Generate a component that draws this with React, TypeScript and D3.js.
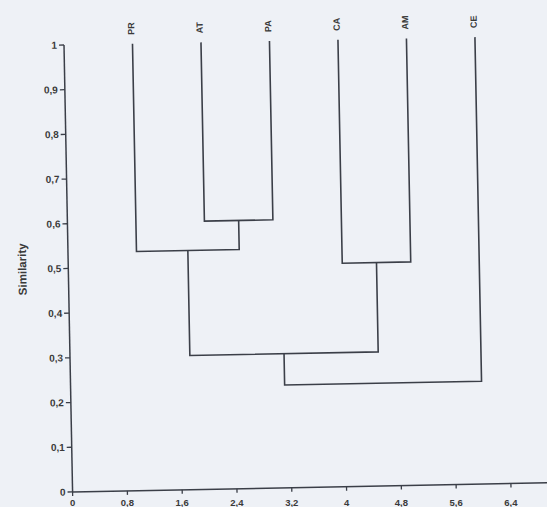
import React from "react";
import * as d3 from "d3";

// ---- data ----
const leafNames = ["PR", "AT", "PA", "CA", "AM", "CE"];
const leafPositions = [1, 2, 3, 4, 5, 6];
// merges: indices 0-5 are leaves, 6+ are merged clusters in order
const mergeA = [1, 0, 3, 7, 9];
const mergeB = [2, 6, 4, 8, 5];
const mergeSimilarity = [0.6, 0.535, 0.5, 0.3, 0.23];
const yTickValues = [0, 0.1, 0.2, 0.3, 0.4, 0.5, 0.6, 0.7, 0.8, 0.9, 1];
const yTickLabels = ["0", "0,1", "0,2", "0,3", "0,4", "0,5", "0,6", "0,7", "0,8", "0,9", "1"];
const xTickValues = [0, 0.8, 1.6, 2.4, 3.2, 4, 4.8, 5.6, 6.4];
const xTickLabels = ["0", "0,8", "1,6", "2,4", "3,2", "4", "4,8", "5,6", "6,4"];

const W = 547;
const H = 507;
const ox = 64;
const oyTop = 45;
const oyBot = 492;
const ANGLE = -1.1;

export default function App() {
  const x = d3.scaleLinear().domain([0, 1]).range([ox, ox + 68.5]);
  const y = d3.scaleLinear().domain([0, 1]).range([oyBot, oyTop]);

  const nodeX: number[] = leafPositions.slice();
  const nodeY: number[] = leafPositions.map(() => 1);
  mergeA.forEach((a, i) => {
    const b = mergeB[i];
    nodeX.push((nodeX[a] + nodeX[b]) / 2);
    nodeY.push(mergeSimilarity[i]);
  });

  const line = d3.line<[number, number]>();
  const links = mergeA.map((a, i) => {
    const b = mergeB[i];
    const s = mergeSimilarity[i];
    return line([
      [x(nodeX[a]), y(nodeY[a])],
      [x(nodeX[a]), y(s)],
      [x(nodeX[b]), y(s)],
      [x(nodeX[b]), y(nodeY[b])],
    ]) as string;
  });

  const rad = (ANGLE * Math.PI) / 180;
  const rotX = (px: number, py: number) =>
    ox + (px - ox) * Math.cos(rad) - (py - oyTop) * Math.sin(rad);

  const stroke = "#3b3f48";
  const font = "'Liberation Sans', Arial, sans-serif";
  const xMax = 7.3;

  return (
    <svg
      width={W}
      height={H}
      style={{ position: "absolute", left: 0, top: 0 }}
      fontFamily={font}
    >
      <rect width={W} height={H} fill="#eef1f6" />
      <g transform={`rotate(${ANGLE}, ${ox}, ${oyTop})`}>
        {/* y axis */}
        <line x1={ox} y1={y(1)} x2={ox} y2={y(0)} stroke={stroke} strokeWidth={1.5} />
        {yTickValues.map((v, i) => (
          <g key={"yt" + i}>
            <line x1={ox - 5} x2={ox} y1={y(v)} y2={y(v)} stroke={stroke} strokeWidth={1.3} />
            <text
              x={ox - 7}
              y={y(v)}
              textAnchor="end"
              dominantBaseline="central"
              fontSize={10}
              fontWeight="bold"
              fill="#3a3a3a"
            >
              {yTickLabels[i]}
            </text>
          </g>
        ))}
        {/* x axis */}
        <line x1={ox} y1={y(0)} x2={x(xMax)} y2={y(0)} stroke={stroke} strokeWidth={1.5} />
        {xTickValues.map((v, i) => (
          <line
            key={"xt" + i}
            x1={x(v)}
            x2={x(v)}
            y1={y(0)}
            y2={y(0) + 4}
            stroke={stroke}
            strokeWidth={1.3}
          />
        ))}
        {/* dendrogram links */}
        {links.map((d, i) => (
          <path key={"l" + i} d={d} fill="none" stroke={stroke} strokeWidth={1.6} />
        ))}
        {/* leaf labels */}
        {leafNames.map((n, i) => (
          <text
            key={"lf" + i}
            transform={`translate(${x(leafPositions[i]) - 1}, ${oyTop - 9}) rotate(-90)`}
            textAnchor="start"
            dominantBaseline="central"
            fontSize={9}
            fontWeight="bold"
            fill="#3a3a3a"
          >
            {n}
          </text>
        ))}
        {/* axis title */}
        <text
          transform={`translate(${ox - 46}, ${y(0.5)}) rotate(-90)`}
          textAnchor="middle"
          dominantBaseline="central"
          fontSize={11.5}
          fontWeight="bold"
          fill="#3a3a3a"
        >
          Similarity
        </text>
      </g>
      {/* x tick labels (kept level, as in the scan) */}
      {xTickValues.map((v, i) => (
        <text
          key={"xl" + i}
          x={rotX(x(v), y(0))}
          y={505.5}
          textAnchor="middle"
          fontSize={9.5}
          fontWeight="bold"
          fill="#3a3a3a"
        >
          {xTickLabels[i]}
        </text>
      ))}
    </svg>
  );
}
